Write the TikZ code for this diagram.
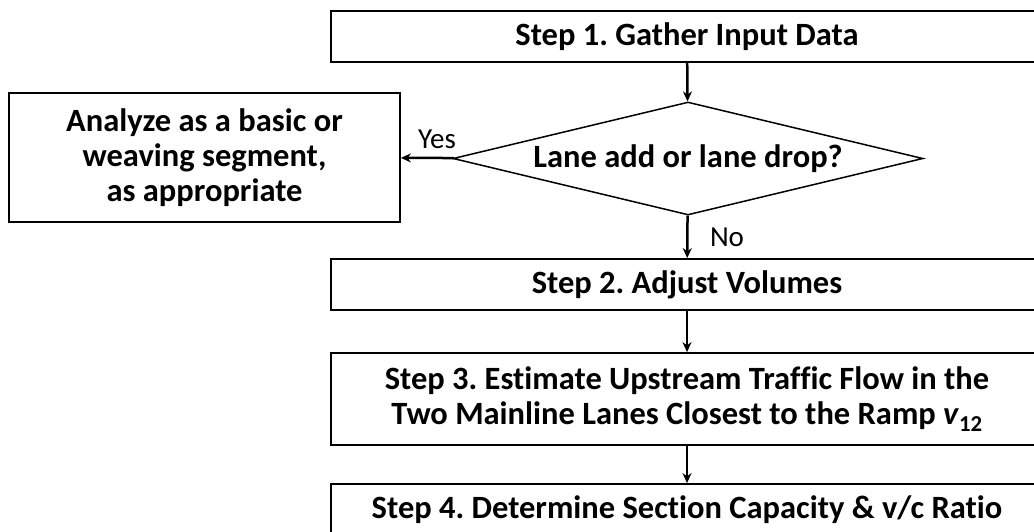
\documentclass[tikz,border=0pt]{standalone}
\usepackage{fontspec}
\setmainfont{Carlito}[Ligatures=NoCommon]
\usetikzlibrary{shapes.geometric,arrows.meta}

\begin{document}
\frenchspacing
\begin{tikzpicture}[x=1pt,y=-1pt,
    stepbox/.style={draw,line width=1.8pt,inner sep=0pt,align=center,
      minimum width=712pt,minimum height=51pt,
      font=\fontsize{32.5}{35}\selectfont\bfseries},
    decision/.style={draw,diamond,line width=1.5pt,inner sep=0pt,aspect=4.16,
      minimum width=470pt,minimum height=113pt,
      font=\fontsize{32.5}{35}\selectfont\bfseries},
    answer/.style={inner sep=0pt,font=\fontsize{29}{30}\selectfont},
    flowarrow/.style={line width=2.5pt,-{Stealth[length=10pt,width=9pt]}}]
  \useasboundingbox (0,0) rectangle (1034,531);
  \clip (0,0) rectangle (1034,531);
  \fill[white] (0,0) rectangle (1034,531);
  % boxes
  \node[stepbox] (gather) at (687,36.5) {Step 1. Gather Input Data};
  \node[decision] (lanedrop) at (688,158.5) {Lane add or lane drop?};
  \node[stepbox,minimum width=391pt,minimum height=129pt] (other)
    at (204.5,157.5) {Analyze as a basic or\\weaving segment,\\as appropriate};
  \node[stepbox] (adjust) at (687,284.5) {Step 2. Adjust Volumes};
  \node[stepbox,minimum height=92pt] (upstream) at (687,399)
    {Step 3. Estimate Upstream Traffic Flow in the\\
     Two Mainline Lanes Closest to the Ramp \textit{v}\textsubscript{12}};
  \node[stepbox] (capacity) at (687,509.5)
    {Step 4. Determine Section Capacity \& v/c Ratio};
  % labels
  \node[answer] (yes) at (437,139) {Yes};
  \node[answer] (no) at (727,237) {No};
  % arrows
  \draw[flowarrow] (gather) -- (lanedrop);
  \draw[flowarrow] (lanedrop) -- (other);
  \draw[flowarrow] (lanedrop) -- (adjust);
  \draw[flowarrow] (adjust) -- (upstream);
  \draw[flowarrow] (upstream) -- (capacity);
\end{tikzpicture}
\end{document}
